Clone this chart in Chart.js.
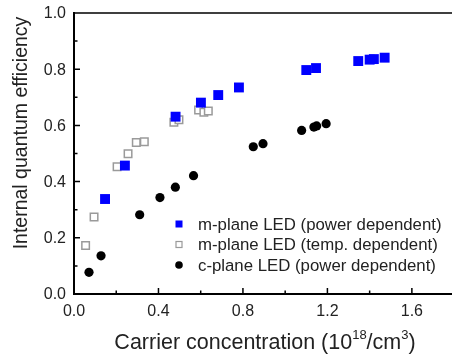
<!DOCTYPE html>
<html>
<head>
<meta charset="utf-8">
<script src="https://cdn.jsdelivr.net/npm/chart.js@4"></script>
<style>
  body { margin: 0; background: #fff; }
  #wrap { width: 452px; height: 364px; }
</style>
</head>
<body>
<div id="wrap"><canvas id="iqeChart"></canvas></div>
<script>
// data
const mPowerX = [0.147, 0.241, 0.481, 0.601, 0.683, 0.781, 1.100, 1.146, 1.346, 1.400, 1.420, 1.471];
const mPowerY = [0.338, 0.457, 0.631, 0.681, 0.708, 0.735, 0.797, 0.804, 0.829, 0.834, 0.836, 0.841];

const mTempX = [0.055, 0.095, 0.204, 0.256, 0.295, 0.333, 0.473, 0.497, 0.590, 0.615, 0.636];
const mTempY = [0.173, 0.274, 0.453, 0.499, 0.539, 0.542, 0.611, 0.620, 0.655, 0.647, 0.651];

const cPowerX = [0.071, 0.128, 0.311, 0.407, 0.480, 0.566, 0.849, 0.895, 1.078, 1.136, 1.149, 1.194];
const cPowerY = [0.077, 0.136, 0.282, 0.343, 0.380, 0.421, 0.524, 0.535, 0.582, 0.594, 0.598, 0.606];

const seriesLabels = ['m-plane LED (power dependent)', 'm-plane LED (temp. dependent)', 'c-plane LED (power dependent)'];

const xTicks = [0.0, 0.4, 0.8, 1.2, 1.6];
const xMinorTicks = [0.2, 0.6, 1.0, 1.4];
const yTicks = [0.0, 0.2, 0.4, 0.6, 0.8, 1.0];
const yMinorTicks = [0.1, 0.3, 0.5, 0.7, 0.9];

const yTitle = 'Internal quantum efficiency';
// x title pieces: [text, superscript?]
const xTitleParts = [['Carrier concentration (10', false], ['18', true], ['/cm', false], ['3', true], [')', false]];

function pts(xs, ys) {
    return xs.map((x, i) => ({ x: x, y: ys[i] }));
}

const FONT = 'Arial, "Liberation Sans", sans-serif';
const TEXT = '#222';

// inward ticks, tick labels, titles, top frame line and the legend
const decorations = {
    id: 'decorations',
    afterDraw(chart) {
        const ctx = chart.ctx;
        const a = chart.chartArea;
        const xs = chart.scales.x, ys = chart.scales.y;
        ctx.save();
        ctx.strokeStyle = '#000';
        ctx.lineWidth = 1.5;
        ctx.beginPath();
        ctx.moveTo(a.left, a.top);
        ctx.lineTo(a.right, a.top);
        xTicks.forEach(v => { const p = xs.getPixelForValue(v); ctx.moveTo(p, a.bottom); ctx.lineTo(p, a.bottom - 6); });
        xMinorTicks.forEach(v => { const p = xs.getPixelForValue(v); ctx.moveTo(p, a.bottom); ctx.lineTo(p, a.bottom - 3.5); });
        yTicks.forEach(v => { const p = ys.getPixelForValue(v); ctx.moveTo(a.left, p); ctx.lineTo(a.left + 6, p); });
        yMinorTicks.forEach(v => { const p = ys.getPixelForValue(v); ctx.moveTo(a.left, p); ctx.lineTo(a.left + 3.5, p); });
        ctx.stroke();

        // tick labels
        ctx.fillStyle = TEXT;
        ctx.font = '16px ' + FONT;
        ctx.textAlign = 'center';
        ctx.textBaseline = 'middle';
        xTicks.forEach(v => ctx.fillText(v.toFixed(1), xs.getPixelForValue(v), a.bottom + 18));
        ctx.textAlign = 'right';
        yTicks.forEach(v => ctx.fillText(v.toFixed(1), a.left - 8, ys.getPixelForValue(v) + 1));

        // y title
        ctx.save();
        ctx.translate(22, 133);
        ctx.rotate(-Math.PI / 2);
        ctx.textAlign = 'center';
        ctx.font = '19.5px ' + FONT;
        ctx.fillText(yTitle, 0, 0);
        ctx.restore();

        // x title with superscripts
        const big = '21.5px ' + FONT, small = '13px ' + FONT;
        ctx.textAlign = 'left';
        ctx.textBaseline = 'alphabetic';
        let total = 0;
        xTitleParts.forEach(([t, sup]) => { ctx.font = sup ? small : big; total += ctx.measureText(t).width; });
        let tx = 265 - total / 2;
        const base = 349;
        xTitleParts.forEach(([t, sup]) => {
            ctx.font = sup ? small : big;
            ctx.fillText(t, tx, sup ? base - 10 : base);
            tx += ctx.measureText(t).width;
        });

        // legend
        const lx = 179, ly0 = 224, dy = 20.5;
        ctx.font = '16.8px ' + FONT;
        ctx.textBaseline = 'middle';
        chart.data.datasets.forEach((ds, i) => {
            const y = ly0 + i * dy;
            ctx.beginPath();
            if (i === 0) {
                ctx.fillStyle = ds.backgroundColor;
                ctx.fillRect(lx - 3.5, y - 3.5, 7, 7);
            } else if (i === 1) {
                ctx.strokeStyle = ds.borderColor;
                ctx.lineWidth = 1.2;
                ctx.strokeRect(lx - 3, y - 3, 6, 6);
            } else {
                ctx.fillStyle = ds.backgroundColor;
                ctx.arc(lx, y, 3.8, 0, Math.PI * 2);
                ctx.fill();
            }
            ctx.fillStyle = TEXT;
            ctx.fillText(ds.label, 198, y + 1);
        });
        ctx.restore();
    }
};

const ctx = document.getElementById('iqeChart').getContext('2d');

const iqeChart = new Chart(ctx, {
    type: 'scatter',
    data: {
        datasets: [{
            label: seriesLabels[0],
            data: pts(mPowerX, mPowerY),
            pointStyle: 'rect',
            pointRadius: 7,
            backgroundColor: '#0000ff',
            borderColor: '#0000ff',
            borderWidth: 0
        }, {
            label: seriesLabels[1],
            data: pts(mTempX, mTempY),
            pointStyle: 'rect',
            pointRadius: 5.3,
            backgroundColor: '#ffffff',
            borderColor: '#9a9a9a',
            borderWidth: 1.5
        }, {
            label: seriesLabels[2],
            data: pts(cPowerX, cPowerY),
            pointStyle: 'circle',
            pointRadius: 4.6,
            backgroundColor: '#000000',
            borderColor: '#000000',
            borderWidth: 0
        }]
    },
    options: {
        responsive: true,
        maintainAspectRatio: false,
        animation: false,
        layout: { autoPadding: false, padding: { top: 13, right: 0, left: 0, bottom: 0 } },
        plugins: {
            legend: { display: false },
            tooltip: { enabled: false }
        },
        scales: {
            x: {
                min: 0,
                max: 1.79,
                afterFit: s => { s.height = 70; },
                grid: { display: false },
                border: { display: true, color: '#000', width: 2 },
                ticks: { display: false },
                title: { display: false }
            },
            y: {
                min: 0,
                max: 1.0,
                afterFit: s => { s.width = 74; },
                grid: { display: false },
                border: { display: true, color: '#000', width: 2 },
                ticks: { display: false },
                title: { display: false }
            }
        }
    },
    plugins: [decorations]
});
</script>
</body>
</html>
